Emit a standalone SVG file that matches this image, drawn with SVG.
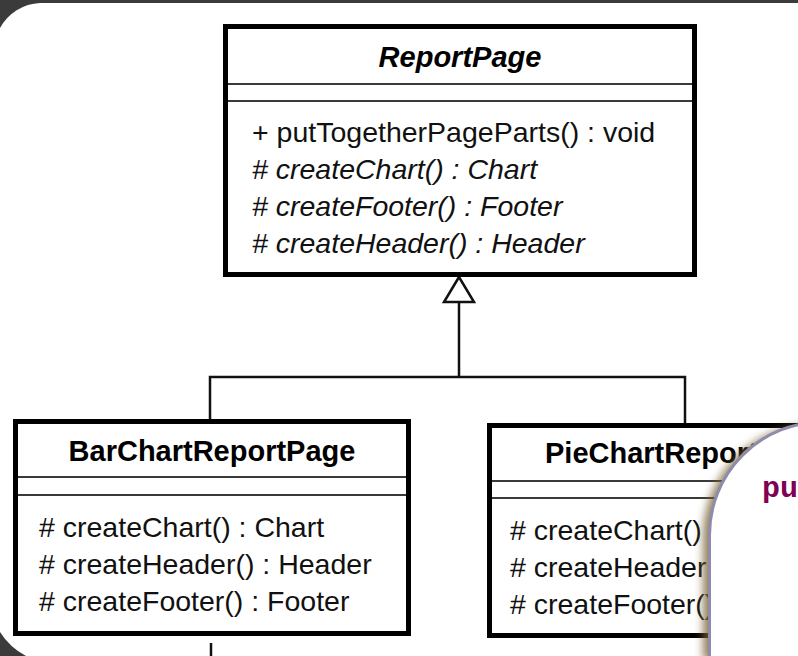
<svg xmlns="http://www.w3.org/2000/svg" width="798" height="656" viewBox="0 0 798 656">
  <defs>
    <style>
      .box { fill: #ffffff; stroke: #000000; stroke-width: 5; }
      .sep { stroke: #3a3a3a; stroke-width: 2; }
      .title { font-family: "Liberation Sans", Arial, sans-serif; font-size: 29px; font-weight: bold; fill: #000; }
      .op { font-family: "Liberation Sans", Arial, sans-serif; font-size: 28.5px; fill: #111; }
      .abstract { font-style: italic; }
      .wire { fill: none; stroke: #111; stroke-width: 2.5; }
      .code { font-family: "Liberation Mono", "Courier New", monospace; font-weight: bold; font-size: 30px; fill: #7f0055; }
    </style>
    <filter id="popupShadow" x="-20%" y="-20%" width="140%" height="140%">
      <feGaussianBlur stdDeviation="4.5"/>
    </filter>
  </defs>

  <!-- dark backdrop and white slide panel -->
  <rect x="0" y="0" width="798" height="656" fill="#3b3b3b"/>
  <path d="M0 28 A48 48 0 0 1 40 3 L798 3 L798 656 L26 656 A68 68 0 0 1 0 632 Z" fill="#ffffff"/>

  <!-- generalization connectors -->
  <g id="connectors">
    <path class="wire" d="M459 302 L459 377 M210 420 L210 377 L685 377 L685 423"/>
    <polygon points="459,277 444,302 474,302" fill="#ffffff" stroke="#111" stroke-width="2.5" stroke-linejoin="miter"/>
    <line class="wire" x1="211" y1="643" x2="211" y2="656" stroke-width="3"/>
  </g>

  <!-- abstract base class -->
  <g id="ReportPage">
    <rect class="box" x="225.5" y="26.5" width="469" height="248"/>
    <line class="sep" x1="228" y1="84" x2="692" y2="84"/>
    <line class="sep" x1="228" y1="101" x2="692" y2="101"/>
    <text class="title abstract" x="460" y="67" text-anchor="middle">ReportPage</text>
    <text class="op" x="252" y="142">+ putTogetherPageParts() : void</text>
    <text class="op abstract" x="252" y="179"># createChart() : Chart</text>
    <text class="op abstract" x="252" y="216"># createFooter() : Footer</text>
    <text class="op abstract" x="252" y="253"># createHeader() : Header</text>
  </g>

  <!-- concrete subclass: bar chart -->
  <g id="BarChartReportPage">
    <rect class="box" x="15.5" y="421.5" width="393" height="212"/>
    <line class="sep" x1="18" y1="477" x2="406" y2="477"/>
    <line class="sep" x1="18" y1="495" x2="406" y2="495"/>
    <text class="title" x="212" y="461" text-anchor="middle">BarChartReportPage</text>
    <text class="op" x="39" y="537"># createChart() : Chart</text>
    <text class="op" x="39" y="574"># createHeader() : Header</text>
    <text class="op" x="39" y="611"># createFooter() : Footer</text>
  </g>

  <!-- concrete subclass: pie chart -->
  <g id="PieChartReportPage">
    <rect class="box" x="489.5" y="425.5" width="393" height="210"/>
    <line class="sep" x1="492" y1="481" x2="880" y2="481"/>
    <line class="sep" x1="492" y1="498" x2="880" y2="498"/>
    <text class="title" x="686" y="463" text-anchor="middle">PieChartReportPage</text>
    <text class="op" x="510" y="540"># createChart() : Chart</text>
    <text class="op" x="510" y="577"># createHeader() : Header</text>
    <text class="op" x="510" y="614"># createFooter() : Footer</text>
  </g>

  <!-- code callout overlapping the diagram -->
  <g id="codeCallout">
    <path d="M703 660 L703 537 A113 113 0 0 1 816 424 L830 424 L830 660 Z" fill="#7a6434" opacity="0.8" filter="url(#popupShadow)"/>
    <path d="M709.5 660 L709.5 535 A113 113 0 0 1 822.5 422 L830 422 L830 660 Z" fill="#ffffff" stroke="#8f8bab" stroke-width="3"/>
    <text class="code" x="762" y="497">pu</text>
  </g>
</svg>
